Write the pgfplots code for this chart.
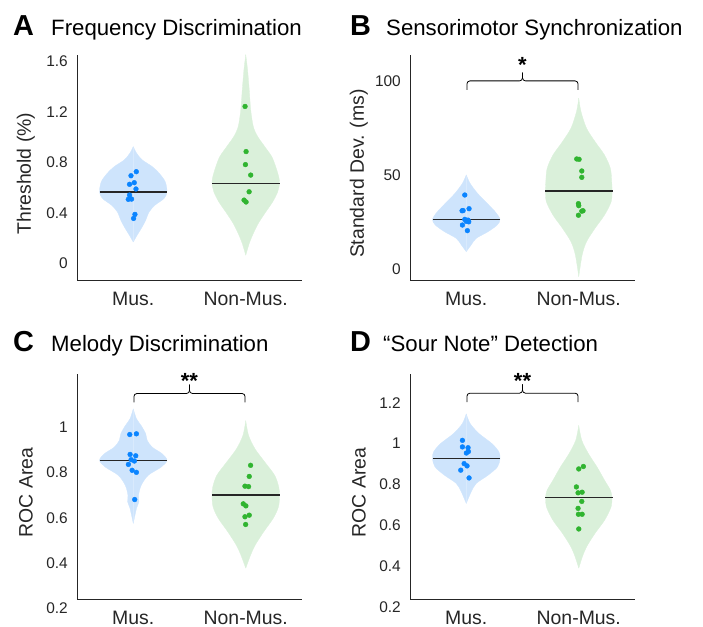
\documentclass[border=0pt]{standalone}
\usepackage{fontspec}
\setmainfont{Liberation Sans}
\usepackage{pgfplots}
\usepackage{pgfplotstable}
\pgfplotsset{compat=1.18}

\definecolor{bluefill}{RGB}{206,228,252}
\definecolor{bluedot}{RGB}{10,132,255}
\definecolor{greenfill}{RGB}{218,240,218}
\definecolor{greendot}{RGB}{48,180,48}
\definecolor{axgray}{RGB}{38,38,38}
\definecolor{txt}{RGB}{38,38,38}

\newcommand\tickfont{\fontsize{15.5}{17}\selectfont}
\newcommand\labfont{\fontsize{19.5}{20}\selectfont}
\newcommand\titfont{\fontsize{22.3}{24}\selectfont}
\newcommand\letfont{\bfseries\fontsize{29}{30}\selectfont}
\newcommand\starfont{\bfseries\fontsize{22}{22}\selectfont}

% violin outlines: y, half-width
\pgfplotstableread{
y w
0.171 0
0.225 0.035
0.291 0.080
0.344 0.111
0.410 0.142
0.463 0.195
0.516 0.275
0.568 0.300
0.648 0.284
0.714 0.231
0.767 0.169
0.820 0.080
0.873 0.030
0.925 0
}\vAm
\pgfplotstableread{
y w
0.066 0
0.159 0.031
0.238 0.067
0.317 0.111
0.397 0.169
0.489 0.240
0.568 0.284
0.635 0.300
0.687 0.293
0.767 0.266
0.846 0.231
0.925 0.169
1.005 0.106
1.084 0.067
1.217 0.044
1.375 0.031
1.534 0.016
1.653 0
}\vAn
\pgfplotstableread{
y w
9.4 0
13.0 0.044
16.5 0.089
20.1 0.195
23.6 0.275
26.6 0.300
30.7 0.257
35.2 0.185
40.5 0.100
45.8 0.034
50.3 0
}\vBm
\pgfplotstableread{
y w
-3.9 0
7.6 0.030
14.7 0.069
21.9 0.145
28.9 0.229
36.0 0.288
41.4 0.296
46.7 0.293
53.8 0.281
60.9 0.229
68.0 0.145
75.2 0.069
84.0 0.020
91.2 0
}\vBn
\pgfplotstableread{
y w
0.576 0
0.642 0.029
0.671 0.050
0.700 0.047
0.744 0.071
0.788 0.133
0.824 0.248
0.854 0.300
0.883 0.257
0.912 0.169
0.942 0.124
0.971 0.111
1.007 0.071
1.037 0.029
1.081 0
}\vCm
\pgfplotstableread{
y w
0.378 0
0.437 0.044
0.480 0.084
0.539 0.160
0.598 0.244
0.649 0.291
0.700 0.300
0.737 0.293
0.788 0.257
0.846 0.170
0.905 0.082
0.964 0.025
1.029 0
}\vCn
\pgfplotstableread{
y w
0.707 0
0.764 0.044
0.805 0.089
0.845 0.193
0.886 0.278
0.927 0.300
0.959 0.291
1.000 0.229
1.049 0.114
1.098 0.035
1.146 0
}\vDm
\pgfplotstableread{
y w
0.390 0
0.447 0.033
0.496 0.071
0.561 0.145
0.626 0.231
0.691 0.288
0.737 0.295
0.772 0.281
0.821 0.229
0.886 0.162
0.951 0.086
1.016 0.027
1.089 0
}\vDn

% individual data points
\pgfplotstableread{
x y
0.980 0.695
1.027 0.727
0.967 0.627
1.009 0.640
1.024 0.590
0.967 0.542
0.956 0.508
0.985 0.510
1.015 0.389
1.003 0.357
}\dAm
\pgfplotstableread{
x y
1.994 1.243
2.003 0.886
1.997 0.783
2.044 0.700
2.030 0.568
1.985 0.502
2.003 0.487
}\dAn
\pgfplotstableread{
x y
0.987 39.6
1.025 32.3
0.963 31.2
0.972 31.3
0.987 26.6
1.016 26.2
1.022 25.3
1.000 25.6
0.966 23.6
1.010 20.6
}\dBm
\pgfplotstableread{
x y
1.982 58.8
2.003 58.6
2.027 52.4
2.027 49.0
1.997 35.0
2.000 33.9
2.038 31.2
2.027 31.0
1.997 28.8
}\dBn
\pgfplotstableread{
x y
0.969 0.968
1.028 0.971
0.972 0.880
1.022 0.874
0.981 0.857
1.010 0.851
0.957 0.836
0.990 0.810
1.028 0.801
1.013 0.681
}\dCm
\pgfplotstableread{
x y
2.043 0.832
2.031 0.783
1.993 0.740
2.025 0.738
1.978 0.662
2.001 0.653
2.031 0.612
1.993 0.605
1.999 0.571
}\dCn
\pgfplotstableread{
x y
0.966 1.016
0.966 0.984
1.016 0.980
1.019 0.961
1.001 0.954
0.981 0.902
1.007 0.891
0.951 0.870
1.025 0.832
}\dDm
\pgfplotstableread{
x y
2.000 0.876
2.041 0.888
1.979 0.788
1.994 0.759
2.030 0.762
2.027 0.717
1.994 0.683
1.997 0.654
2.030 0.654
2.000 0.582
}\dDn

\pgfplotsset{
  myax/.style={
    scale only axis, width=225bp, height=225bp,
    xmin=0.5, xmax=2.5,
    axis x line*=bottom, axis y line*=left,
    axis line style={color=axgray, line width=0.8bp},
    major tick length=0pt,
    xtick={1,2}, xticklabels={Mus., Non-Mus.},
    xticklabel style={font=\labfont, text=txt, anchor=base, yshift=-25bp},
    yticklabel style={font=\tickfont, text=txt, anchor=east, inner sep=0pt, xshift=-9bp},
    ylabel style={at={(axis description cs:-0.227,0.473)}, anchor=center, font=\labfont, text=txt},
    clip=false,
  },
  ptsb/.style={only marks, mark=*, mark size=2.4bp, mark options={draw=bluedot, fill=bluedot}},
  ptsg/.style={only marks, mark=*, mark size=2.4bp, mark options={draw=greendot, fill=greendot}},
  medln/.style={color=axgray, line width=1.5bp, mark=none},
  brk/.style={black, line width=0.8bp, rounded corners=3bp, mark=none},
}

% half violins (each closes along the centre line)
\newcommand\violin[3]{% table, center, color
  \addplot[fill=#3, draw=#3, line width=0.3bp, smooth, mark=none] table[x expr=#2+\thisrow{w}, y=y] {#1};
  \addplot[fill=#3, draw=#3, line width=0.3bp, smooth, mark=none] table[x expr=#2-\thisrow{w}, y=y] {#1};
}

\begin{document}
\begin{tikzpicture}
\useasboundingbox (0,0) rectangle (703bp,-627bp);

% ---------- A ----------
\node[anchor=base west, inner sep=0pt, font=\letfont] at (13bp,-35bp) {A};
\node[anchor=base west, inner sep=0pt, font=\titfont] at (51bp,-35bp) {Frequency Discrimination};
\begin{axis}[myax, at={(77bp,-280bp)}, anchor=south west,
  ymin=-0.13, ymax=1.65, ytick={0,0.4,0.8,1.2,1.6}, yticklabels={0,0.4,0.8,1.2,1.6},
  ylabel={Threshold (\%)}]
  \violin{\vAm}{1}{bluefill}
  \violin{\vAn}{2}{greenfill}
  \addplot[medln] coordinates {(0.7,0.568) (1.3,0.568)};
  \addplot[medln] coordinates {(1.7,0.635) (2.3,0.635)};
  \addplot[ptsb] table[x=x,y=y] {\dAm};
  \addplot[ptsg] table[x=x,y=y] {\dAn};
\end{axis}

% ---------- B ----------
\node[anchor=base west, inner sep=0pt, font=\letfont] at (350bp,-35bp) {B};
\node[anchor=base west, inner sep=0pt, font=\titfont] at (386bp,-35bp) {Sensorimotor Synchronization};
\begin{axis}[myax, at={(410bp,-280bp)}, anchor=south west,
  ymin=-5.7, ymax=114.2, ytick={0,50,100}, yticklabels={0,50,100},
  ylabel={Standard Dev. (ms)}]
  \violin{\vBm}{1}{bluefill}
  \violin{\vBn}{2}{greenfill}
  \addplot[medln] coordinates {(0.7,26.6) (1.3,26.6)};
  \addplot[medln] coordinates {(1.7,41.8) (2.3,41.8)};
  \addplot[ptsb] table[x=x,y=y] {\dBm};
  \addplot[ptsg] table[x=x,y=y] {\dBn};
  \addplot[brk] coordinates {(1.006,95.6) (1.006,100.4) (1.5,100.4) (1.5,104.8)};
  \addplot[brk] coordinates {(1.5,104.8) (1.5,100.4) (1.994,100.4) (1.994,95.6)};
  \node[anchor=base, inner sep=0pt, font=\starfont] at (axis cs:1.5,104.9) {*};
\end{axis}

% ---------- C ----------
\node[anchor=base west, inner sep=0pt, font=\letfont] at (13bp,-351bp) {C};
\node[anchor=base west, inner sep=0pt, font=\titfont] at (51bp,-351bp) {Melody Discrimination};
\begin{axis}[myax, at={(77bp,-599bp)}, anchor=south west,
  ymin=0.242, ymax=1.235, ytick={0.4,0.6,0.8,1}, yticklabels={0.4,0.6,0.8,1},
  ylabel={ROC Area}]
  \violin{\vCm}{1}{bluefill}
  \violin{\vCn}{2}{greenfill}
  \addplot[medln] coordinates {(0.7,0.853) (1.3,0.853)};
  \addplot[medln] coordinates {(1.7,0.700) (2.3,0.700)};
  \addplot[ptsb] table[x=x,y=y] {\dCm};
  \addplot[ptsg] table[x=x,y=y] {\dCn};
  \addplot[brk] coordinates {(1.006,1.110) (1.006,1.149) (1.5,1.149) (1.5,1.188)};
  \addplot[brk] coordinates {(1.5,1.188) (1.5,1.149) (1.994,1.149) (1.994,1.110)};
  \node[anchor=base, inner sep=0pt, font=\starfont] at (axis cs:1.5,1.172) {**};
  \node[anchor=east, inner sep=0pt, font=\tickfont, text=txt, xshift=-9bp] at (axis cs:0.5,0.2) {0.2};
\end{axis}

% ---------- D ----------
\node[anchor=base west, inner sep=0pt, font=\letfont] at (350bp,-351bp) {D};
\node[anchor=base west, inner sep=0pt, font=\titfont] at (383bp,-351bp) {“Sour Note” Detection};
\begin{axis}[myax, at={(410bp,-599bp)}, anchor=south west,
  ymin=0.239, ymax=1.341, ytick={0.4,0.6,0.8,1,1.2}, yticklabels={0.4,0.6,0.8,1,1.2},
  ylabel={ROC Area}]
  \violin{\vDm}{1}{bluefill}
  \violin{\vDn}{2}{greenfill}
  \addplot[medln] coordinates {(0.7,0.927) (1.3,0.927)};
  \addplot[medln] coordinates {(1.7,0.737) (2.3,0.737)};
  \addplot[ptsb] table[x=x,y=y] {\dDm};
  \addplot[ptsg] table[x=x,y=y] {\dDn};
  \addplot[brk] coordinates {(1.006,1.203) (1.006,1.247) (1.5,1.247) (1.5,1.290)};
  \addplot[brk] coordinates {(1.5,1.290) (1.5,1.247) (1.994,1.247) (1.994,1.203)};
  \node[anchor=base, inner sep=0pt, font=\starfont] at (axis cs:1.5,1.272) {**};
  \node[anchor=east, inner sep=0pt, font=\tickfont, text=txt, xshift=-9bp] at (axis cs:0.5,0.2) {0.2};
\end{axis}
\end{tikzpicture}
\end{document}
